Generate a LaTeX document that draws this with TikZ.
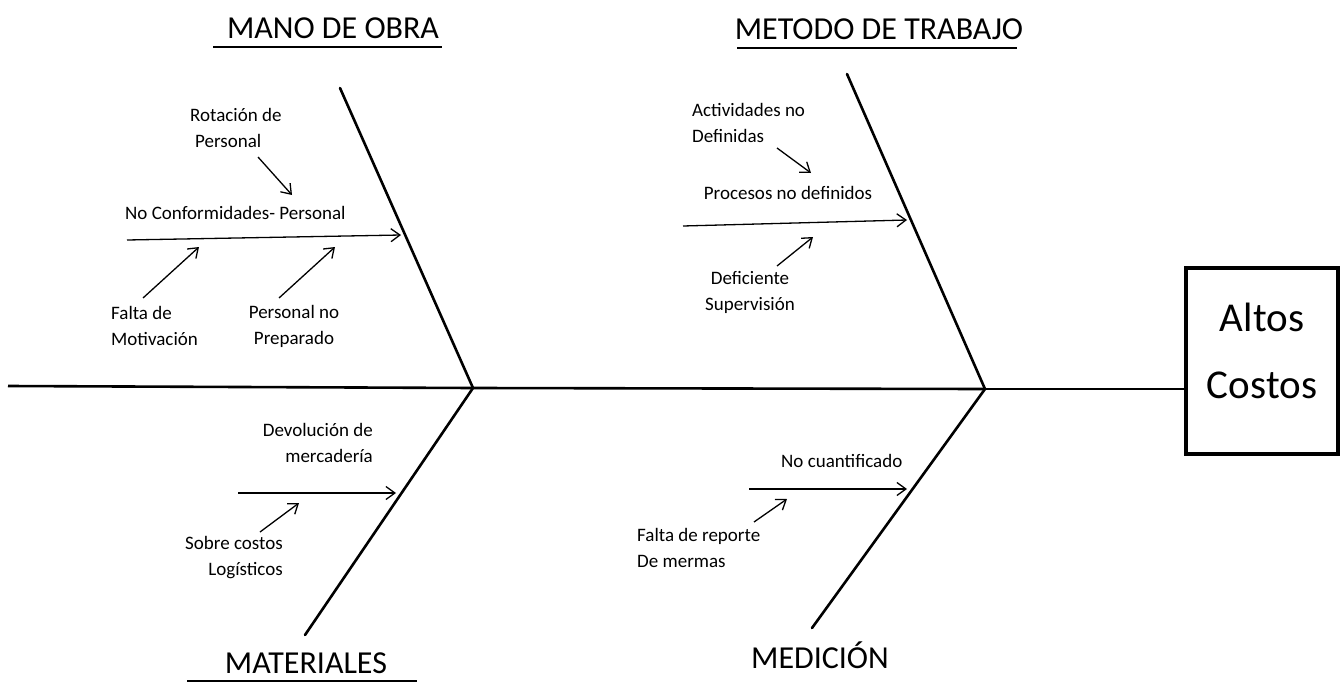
\documentclass[tikz,border=0pt]{standalone}
\usepackage{fontspec}
\setmainfont{Carlito}
\usetikzlibrary{arrows.meta}
\tikzset{
  bone/.style={line width=2.6pt, line cap=round},
  spine/.style={line width=2.6pt},
  branch/.style={line width=1.3pt, -{Straight Barb[length=9pt,width=13pt,line width=1.3pt]}},
  small/.style={font=\fontsize{19}{26}\selectfont, inner sep=0pt},
  title/.style={font=\fontsize{32}{38}\selectfont, inner sep=0pt, anchor=base},
  uline/.style={line width=2.4pt},
  effect/.style={draw, line width=4pt, minimum width=152pt, minimum height=186pt, inner sep=0pt},
  bigtxt/.style={font=\fontsize{41}{67}\selectfont, align=center, inner sep=0pt, anchor=base}
}
\begin{document}
\begin{tikzpicture}[x=1pt,y=-1pt]
\useasboundingbox (0,0) rectangle (1341,682);
% key points
\coordinate (s0) at (8,386);
\coordinate (j1) at (473,388);
\coordinate (j2) at (985,389);
\coordinate (t1) at (340,88);
\coordinate (t2) at (847,74);
\coordinate (b3) at (305,635);
\coordinate (b4) at (812,628);
% effect box
\node[effect] (ac) at (1262,361) {};
\node[bigtxt] (act) at (1262,398) {Altos\\Costos};
% spine
\draw[spine] (s0) -- (j1) -- (j2);
\draw[line width=1.8pt] (j2) -- (ac.west |- j2);
% bones
\draw[bone] (t1) -- (j1) -- (b3);
\draw[bone] (t2) -- (j2) -- (b4);
% titles
\node[title] (tmo) at (333,39) {MANO DE OBRA};
\coordinate (u1a) at (213,47); \coordinate (u1b) at (442,47);
\draw[uline] (u1a) -- (u1b);
\node[title] (tmt) at (879,40) {METODO DE TRABAJO};
\coordinate (u2a) at (737,48); \coordinate (u2b) at (1017,48);
\draw[uline] (u2a) -- (u2b);
\node[title] (tma) at (306,673) {MATERIALES};
\coordinate (u3a) at (187,681); \coordinate (u3b) at (417,681);
\draw[line width=1.2pt] (u3a) -- (u3b);
\node[title] (tme) at (820,668) {MEDICIÓN};
% --- Mano de obra
\node[small, anchor=west, align=left] (rot) at (190,128) {Rotación de\\\hspace*{5pt}Personal};
\node[small, anchor=west] (ncp) at (125,213) {No Conformidades- Personal};
\node[small, anchor=west, align=left] (fm) at (111,326) {Falta de\\Motivación};
\node[small, align=center] (pnp) at (294,326) {Personal no\\Preparado};
\coordinate (m0) at (127,240); \coordinate (m1) at (401,235);
\draw[branch] (m0) -- (m1);
\coordinate (r0) at (258,157); \coordinate (r1) at (292,195);
\draw[branch] (r0) -- (r1);
\coordinate (f0) at (143,298); \coordinate (f1) at (199,247);
\draw[branch] (f0) -- (f1);
\coordinate (p0) at (279,298); \coordinate (p1) at (335,247);
\draw[branch] (p0) -- (p1);
% --- Metodo de trabajo
\node[small, anchor=west, align=left] (adn) at (692,123) {Actividades no\\Definidas};
\node[small] (pnd) at (788,193) {Procesos no definidos};
\node[small, align=center] (dsu) at (750,292) {Deficiente\\Supervisión};
\coordinate (n0) at (683,226); \coordinate (n1) at (907,220);
\draw[branch] (n0) -- (n1);
\coordinate (a0) at (777,148); \coordinate (a1) at (811,173);
\draw[branch] (a0) -- (a1);
\coordinate (d0) at (777,266); \coordinate (d1) at (813,237);
\draw[branch] (d0) -- (d1);
% --- Materiales
\node[small, anchor=east, align=right] (dme) at (373,443) {Devolución de\\mercadería};
\node[small, anchor=east, align=right] (scl) at (283,558) {Sobre costos\\Logísticos};
\coordinate (k0) at (238,493); \coordinate (k1) at (396,493);
\draw[branch] (k0) -- (k1);
\coordinate (c0) at (260,532); \coordinate (c1) at (299,503);
\draw[branch] (c0) -- (c1);
% --- Medicion
\node[small, anchor=west] (nqu) at (781,461) {No cuantificado};
\node[small, anchor=west, align=left] (frm) at (637,548) {Falta de reporte\\De mermas};
\coordinate (q0) at (749,489); \coordinate (q1) at (907,489);
\draw[branch] (q0) -- (q1);
\coordinate (e0) at (754,522); \coordinate (e1) at (787,499);
\draw[branch] (e0) -- (e1);
\end{tikzpicture}
\end{document}
